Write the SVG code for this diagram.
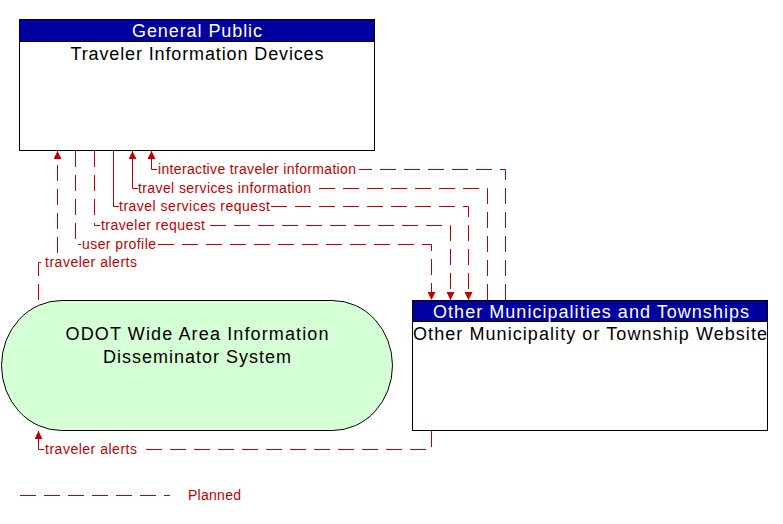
<svg xmlns="http://www.w3.org/2000/svg" width="783" height="524" viewBox="0 0 783 524">
<defs>
<marker id="ah" viewBox="0 0 10 10" refX="10" refY="5" markerWidth="8" markerHeight="8" markerUnits="userSpaceOnUse" orient="auto">
<path d="M0,0 L10,5 L0,10 z" fill="#C00000"/>
</marker>
</defs>
<style>
.box{fill:#fff;stroke:#000;stroke-width:1}
.hdr{fill:#0000A0;stroke:#000;stroke-width:1}
.ht{font-family:"Liberation Sans",Arial,sans-serif;font-size:18px;fill:#fff;text-anchor:middle}
.bt{font-family:"Liberation Sans",Arial,sans-serif;font-size:18px;fill:#000;text-anchor:middle}
.fl{fill:none;stroke:#C00000;stroke-width:1;stroke-dasharray:16 8}
.sl{fill:none;stroke:#C00000;stroke-width:1}
.lb{font-family:"Liberation Sans",Arial,sans-serif;font-size:14px;fill:#C00000}
</style>
<g id="node-traveler-info-devices">
<rect class="box" x="19.5" y="19.5" width="355" height="131"/>
<rect class="hdr" x="19.5" y="19.5" width="355" height="22"/>
<text class="ht" x="197" y="37" textLength="130" lengthAdjust="spacing">General Public</text>
<text class="bt" x="197" y="60" textLength="253" lengthAdjust="spacing">Traveler Information Devices</text>
</g>
<g id="node-other-municipality">
<rect class="box" x="412.5" y="300.5" width="355" height="130"/>
<rect class="hdr" x="412.5" y="300.5" width="355" height="21"/>
<text class="ht" x="591" y="318" textLength="316" lengthAdjust="spacing">Other Municipalities and Townships</text>
<text class="bt" x="590" y="340" textLength="354" lengthAdjust="spacing">Other Municipality or Township Website</text>
</g>
<g id="node-odot-wide-area">
<rect x="1.5" y="300.5" width="391" height="130" rx="60" ry="65" fill="#D5FFD5" stroke="#000" stroke-width="1"/>
<text class="bt" x="197" y="340" textLength="263" lengthAdjust="spacing">ODOT Wide Area Information</text>
<text class="bt" x="197" y="363" textLength="188" lengthAdjust="spacing">Disseminator System</text>
</g>
<g id="connectors">
<!-- interactive traveler information: other -> top -->
<path class="fl" d="M505.5,300 V169.5 H359"/>
<path class="sl" d="M157,169.5 H151.5 V151" marker-end="url(#ah)"/>
<text class="lb" x="158" y="174" textLength="198" lengthAdjust="spacing">interactive traveler information</text>
<!-- travel services information -->
<path class="fl" d="M487.5,300 V188.5 H313"/>
<path class="sl" d="M138,188.5 H132.5 V151" marker-end="url(#ah)"/>
<text class="lb" x="138" y="193" textLength="173" lengthAdjust="spacing">travel services information</text>
<!-- travel services request: top -> other -->
<path class="sl" d="M113.5,151 V206.5 H119"/>
<path class="fl" d="M271,206.5 H468.5 V300" marker-end="url(#ah)"/>
<text class="lb" x="119" y="211" textLength="151" lengthAdjust="spacing">travel services request</text>
<!-- traveler request -->
<path class="fl" d="M94.5,151 V225.5 H100"/>
<path class="fl" d="M210,225.5 H450.5 V300" marker-end="url(#ah)"/>
<text class="lb" x="101" y="230" textLength="104" lengthAdjust="spacing">traveler request</text>
<!-- user profile -->
<path class="fl" d="M75.5,151 V244.5 H81"/>
<path class="fl" d="M158,244.5 H431.5 V300" marker-end="url(#ah)"/>
<text class="lb" x="82" y="249" textLength="74" lengthAdjust="spacing">user profile</text>
<!-- traveler alerts: odot -> top -->
<path class="fl" d="M38.5,300 V262.5 H44"/>
<path class="fl" d="M57.5,253 V151" marker-end="url(#ah)"/>
<text class="lb" x="45" y="267" textLength="92" lengthAdjust="spacing">traveler alerts</text>
<!-- traveler alerts: other -> odot -->
<path class="fl" d="M431.5,431 V449.5 H139"/>
<path class="sl" d="M44,449.5 H38.5 V431" marker-end="url(#ah)"/>
<text class="lb" x="45" y="454" textLength="92" lengthAdjust="spacing">traveler alerts</text>
</g>
<g id="legend">
<path class="fl" d="M20,495.5 H170"/>
<text class="lb" x="188" y="500" textLength="53" lengthAdjust="spacing">Planned</text>
</g>
</svg>
